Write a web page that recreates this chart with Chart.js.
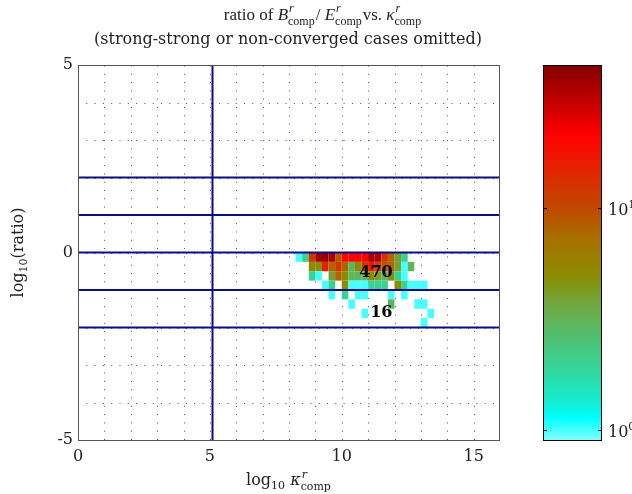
<!DOCTYPE html>
<html>
<head>
<meta charset="utf-8">
<script src="https://cdn.jsdelivr.net/npm/chart.js@4.4.0/dist/chart.umd.min.js"></script>
<style>
html, body { margin: 0; padding: 0; background: #fff; }
#wrap { position: relative; width: 632px; height: 494px; overflow: hidden; }
#main { position: absolute; left: 0; top: 0; }
#cbar { position: absolute; left: 530px; top: 0; }
</style>
</head>
<body>
<div id="wrap">
  <canvas id="main" width="632" height="494"></canvas>
  <canvas id="cbar" width="102" height="494"></canvas>
</div>
<script>
// histogram bins: columns start at x = 8.25, rows start at y = 0 going down
var binX0 = 8.25, binW = 0.25;
var binY0 = 0, binH = 0.25;
var row0 = [1, 2, 13, 36, 40, 34, 9, 20, 20, 20, 20, 36, 34, 13, 8, 4, 2];
var row1 = [0, 0, 5, 5, 16, 8, 12, 8, 3, 5, 12, 18, 11, 9, 8, 4, 1, 3];
var row2 = [0, 0, 2, 1, 0, 4, 8, 5, 3, 3, 3, 5, 4, 3, 5, 2, 1];
var row3 = [0, 0, 0, 0, 1, 2, 0, 5, 1, 1, 1, 2, 2, 2, 0, 5, 2, 1, 1, 1];
var row4 = [0, 0, 0, 0, 0, 1, 0, 2, 0, 1, 1, 0, 0, 0, 1, 0, 1];
var row5 = [0, 0, 0, 0, 0, 0, 0, 0, 1, 0, 0, 0, 0, 0, 3, 0, 0, 0, 1, 1];
var row6 = [0, 0, 0, 0, 0, 0, 0, 0, 0, 0, 1, 0, 0, 0, 0, 0, 0, 0, 0, 0, 1];
var row7 = [0, 0, 0, 0, 0, 0, 0, 0, 0, 0, 0, 0, 0, 0, 0, 0, 0, 0, 0, 1];
var counts = [row0, row1, row2, row3, row4, row5, row6, row7];

var hLines = [2, 1, 0, -1, -2];
var vLines = [5.1];

var noteText = ['470', '16'];
var noteX = [11.3, 11.5];
var noteY = [-0.55, -1.6];

var xTicks = [0, 5, 10, 15];
var yTicks = [-5, 0, 5];
var cbTicks = [1, 10];
var cbExp = ['0', '1'];
var cbMin = 0.9, cbMax = 44;

var serif = '"DejaVu Serif", "Liberation Serif", serif';
var serifNarrow = '"Liberation Serif", "DejaVu Serif", serif';
var txtColor = '#222';
var fs = 16;

// colormap stops (fraction of log colour range, colour)
var cmT = [0, 0.06, 0.093, 0.181, 0.272, 0.36, 0.44, 0.539, 0.619, 0.733, 0.813, 0.955, 1];
var cmC = ['#80ffff', '#00ffff', '#10f0d8', '#30d8a0', '#50c070', '#70a840', '#8c8c00',
           '#a87000', '#c04800', '#e82000', '#ff0000', '#a00000', '#800000'];

function hex2rgb(h) {
  return [parseInt(h.substr(1, 2), 16), parseInt(h.substr(3, 2), 16), parseInt(h.substr(5, 2), 16)];
}
function cmap(v) {
  var t = (Math.log(v) - Math.log(cbMin)) / (Math.log(cbMax) - Math.log(cbMin));
  t = Math.max(0, Math.min(1, t));
  for (var i = 1; i < cmT.length; i++) {
    if (t <= cmT[i]) {
      var f = (t - cmT[i - 1]) / (cmT[i] - cmT[i - 1]);
      var a = hex2rgb(cmC[i - 1]), b = hex2rgb(cmC[i]);
      return 'rgb(' + Math.round(a[0] + f * (b[0] - a[0])) + ',' +
        Math.round(a[1] + f * (b[1] - a[1])) + ',' + Math.round(a[2] + f * (b[2] - a[2])) + ')';
    }
  }
  return cmC[cmC.length - 1];
}

// rich text: parts are {t, i (italic), s (size), dy} or {sup, sub}
var curFamily = serif;
function partFont(p, base) {
  return (p.i ? 'italic ' : '') + (p.s || base) + 'px ' + curFamily;
}
function richWidth(ctx, parts, base) {
  var w = 0;
  parts.forEach(function (p) {
    if (p.sup !== undefined) {
      ctx.font = 'italic ' + Math.round(base * 0.68) + 'px ' + curFamily;
      var a = ctx.measureText(p.sup).width;
      ctx.font = Math.round(base * 0.68) + 'px ' + curFamily;
      var b = ctx.measureText(p.sub).width;
      w += Math.max(a, b) + 1;
    } else {
      ctx.font = partFont(p, base);
      w += ctx.measureText(p.t).width;
    }
  });
  return w;
}
function drawRich(ctx, parts, x, y, base, align, family) {
  curFamily = family || serif;
  var w = richWidth(ctx, parts, base);
  var cx = align === 'center' ? x - w / 2 : x;
  ctx.textBaseline = 'alphabetic';
  ctx.textAlign = 'left';
  parts.forEach(function (p) {
    if (p.sup !== undefined) {
      ctx.font = 'italic ' + Math.round(base * 0.68) + 'px ' + curFamily;
      var a = ctx.measureText(p.sup).width;
      ctx.fillText(p.sup, cx + 1, y - base * 0.45);
      ctx.font = Math.round(base * 0.68) + 'px ' + curFamily;
      var b = ctx.measureText(p.sub).width;
      ctx.fillText(p.sub, cx, y + base * 0.3);
      cx += Math.max(a, b) + 1;
    } else {
      ctx.font = partFont(p, base);
      ctx.fillText(p.t, cx, y + (p.dy || 0));
      cx += ctx.measureText(p.t).width;
    }
  });
}

var heatPlugin = {
  id: 'heat',
  beforeDatasetsDraw: function (chart) {
    var ctx = chart.ctx, xs = chart.scales.x, ys = chart.scales.y, a = chart.chartArea;
    ctx.save();
    ctx.beginPath();
    ctx.rect(a.left, a.top, a.right - a.left, a.bottom - a.top);
    ctx.clip();
    // dotted grid
    ctx.strokeStyle = 'rgba(20,20,255,0.85)';
    ctx.lineWidth = 1;
    ctx.setLineDash([1, 7.3]);
    for (var i = 1; i < 16; i++) {
      var px = Math.round(xs.getPixelForValue(i)) + 0.5;
      ctx.beginPath(); ctx.moveTo(px, a.bottom); ctx.lineTo(px, a.top); ctx.stroke();
    }
    for (var j = -4; j <= 4; j++) {
      var py = Math.round(ys.getPixelForValue(j)) + 0.5;
      ctx.beginPath(); ctx.moveTo(a.left, py); ctx.lineTo(a.right, py); ctx.stroke();
    }
    ctx.setLineDash([]);
    // cells
    counts.forEach(function (row, r) {
      row.forEach(function (v, c) {
        if (!v) return;
        var x0 = xs.getPixelForValue(binX0 + c * binW);
        var x1 = xs.getPixelForValue(binX0 + (c + 1) * binW);
        var y0 = ys.getPixelForValue(binY0 - r * binH);
        var y1 = ys.getPixelForValue(binY0 - (r + 1) * binH);
        ctx.fillStyle = cmap(v);
        ctx.fillRect(x0, y0, x1 - x0, y1 - y0);
      });
    });
    ctx.restore();
  },
  afterDatasetsDraw: function (chart) {
    var ctx = chart.ctx, xs = chart.scales.x, ys = chart.scales.y, a = chart.chartArea;
    ctx.save();
    ctx.strokeStyle = '#555';
    ctx.lineWidth = 1;
    ctx.strokeRect(a.left + 0.5, a.top + 0.5, a.right - a.left - 1, a.bottom - a.top);
    ctx.fillStyle = '#000';
    ctx.font = 'bold ' + fs + 'px ' + serif;
    ctx.textAlign = 'center';
    ctx.textBaseline = 'middle';
    noteText.forEach(function (t, k) {
      ctx.fillText(t, xs.getPixelForValue(noteX[k]), ys.getPixelForValue(noteY[k]));
    });
    // titles
    ctx.fillStyle = txtColor;
    drawRich(ctx, [
      { t: 'ratio of ' }, { t: 'B', i: true }, { sup: 'r', sub: 'comp' },
      { t: '/ ' }, { t: 'E', i: true }, { sup: 'r', sub: 'comp' },
      { t: 'vs. ' }, { t: '\u03ba', i: true }, { sup: 'r', sub: 'comp' }
    ], 323, 20, 17, 'center', serifNarrow);
    drawRich(ctx, [{ t: '(strong-strong or non-converged cases omitted)' }], 288, 44, fs, 'center');
    drawRich(ctx, [
      { t: 'log' }, { t: '10', s: 11, dy: 4 }, { t: ' ' }, { t: '\u03ba', i: true }, { sup: 'r', sub: 'comp' }
    ], 289, 485, fs, 'center');
    ctx.save();
    ctx.translate(23, (a.top + a.bottom) / 2);
    ctx.rotate(-Math.PI / 2);
    drawRich(ctx, [{ t: 'log' }, { t: '10', s: 11, dy: 4 }, { t: '(ratio)' }], 0, 0, fs, 'center');
    ctx.restore();
    ctx.restore();
  }
};

var lineSets = [];
hLines.forEach(function (v) {
  lineSets.push({ data: [{ x: 0, y: v }, { x: 16, y: v }] });
});
vLines.forEach(function (v) {
  lineSets.push({ data: [{ x: v, y: -5 }, { x: v, y: 5 }] });
});
lineSets.forEach(function (d) {
  d.showLine = true;
  d.borderColor = '#0c0c86';
  d.borderWidth = 2;
  d.pointRadius = 0;
});

new Chart(document.getElementById('main'), {
  type: 'scatter',
  data: { datasets: lineSets },
  options: {
    responsive: false,
    animation: false,
    events: [],
    layout: { padding: { left: 0, top: 65, right: 132, bottom: 0 } },
    plugins: { legend: { display: false }, tooltip: { enabled: false } },
    scales: {
      x: {
        type: 'linear', min: 0, max: 16,
        afterBuildTicks: function (s) { s.ticks = xTicks.map(function (v) { return { value: v }; }); },
        afterFit: function (s) { s.height = 54; },
        grid: { display: false },
        border: { display: false },
        ticks: { color: txtColor, font: { family: serif, size: fs }, padding: -1, maxRotation: 0 }
      },
      y: {
        type: 'linear', min: -5, max: 5,
        afterBuildTicks: function (s) { s.ticks = yTicks.map(function (v) { return { value: v }; }); },
        afterFit: function (s) { s.width = 78; },
        grid: { display: false },
        border: { display: false },
        ticks: { color: txtColor, font: { family: serif, size: fs }, padding: -3 }
      }
    }
  },
  plugins: [heatPlugin]
});

var cbarPlugin = {
  id: 'cbarPaint',
  beforeDatasetsDraw: function (chart) {
    var ctx = chart.ctx, ys = chart.scales.y, a = chart.chartArea;
    var g = ctx.createLinearGradient(0, a.bottom, 0, a.top);
    for (var i = 0; i < cmT.length; i++) g.addColorStop(cmT[i], cmC[i]);
    ctx.save();
    ctx.fillStyle = g;
    ctx.fillRect(a.left, a.top, a.right - a.left, a.bottom - a.top);
    ctx.strokeStyle = '#000';
    ctx.lineWidth = 1;
    ctx.strokeRect(a.left + 0.5, a.top + 0.5, a.right - a.left - 1, a.bottom - a.top);
    ctx.fillStyle = txtColor;
    cbTicks.forEach(function (v, k) {
      var py = Math.round(ys.getPixelForValue(v)) + 0.5;
      ctx.beginPath();
      ctx.moveTo(a.left, py); ctx.lineTo(a.left + 4, py);
      ctx.moveTo(a.right, py); ctx.lineTo(a.right - 4, py);
      ctx.stroke();
      drawRich(ctx, [{ t: '10' }, { t: cbExp[k], s: 11, dy: -7 }], a.right + 6, py + 6, fs, 'left');
    });
    ctx.restore();
  }
};

new Chart(document.getElementById('cbar'), {
  type: 'scatter',
  data: { datasets: [{ data: [] }] },
  options: {
    responsive: false,
    animation: false,
    events: [],
    layout: { padding: { left: 13, top: 65, right: 0, bottom: 54 } },
    plugins: { legend: { display: false }, tooltip: { enabled: false } },
    scales: {
      x: { type: 'linear', min: 0, max: 1, display: false },
      y: {
        type: 'logarithmic', position: 'right', min: cbMin, max: cbMax,
        afterBuildTicks: function (s) { s.ticks = cbTicks.map(function (v) { return { value: v }; }); },
        afterFit: function (s) { s.width = 30; },
        grid: { display: false },
        border: { display: false },
        ticks: { display: false }
      }
    }
  },
  plugins: [cbarPlugin]
});
</script>
</body>
</html>
